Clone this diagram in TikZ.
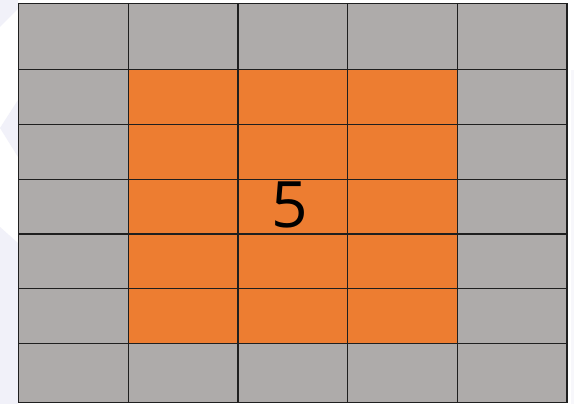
\documentclass[tikz,border=0pt]{standalone}
\usepackage{fontspec}
\newfontfamily\numfont{Open Sans}
\definecolor{cellgray}{HTML}{AEABAA}
\definecolor{cellorange}{HTML}{ED7D31}
\definecolor{bglav}{HTML}{F1F1F9}
\begin{document}
\begin{tikzpicture}[x=1pt,y=-1pt,
  cellbox/.style={draw=black!88, line width=1.2pt},
  numlabel/.style={font=\numfont\fontsize{64}{64}\selectfont, text=black, inner sep=0pt}]
\useasboundingbox (0,0) rectangle (574,404);
\fill[white] (0,0) rectangle (574,404);
\fill[bglav] (0,0) -- (18,0) -- (18,9) -- (0,27) -- cycle;
\fill[bglav] (18,100) -- (0,128) -- (18,157) -- cycle;
\fill[bglav] (0,227) -- (18,243) -- (18,404) -- (0,404) -- cycle;
\fill[bglav!60] (571,70) rectangle (574,404);
\foreach \c in {0,...,4}{
  \foreach \r in {0,...,6}{
    \pgfmathsetmacro\xa{{18.3,128.2,237.9,347.6,457.3,567}[\c]}
    \pgfmathsetmacro\xb{{18.3,128.2,237.9,347.6,457.3,567}[\c+1]}
    \pgfmathsetmacro\ya{{3.7,69.7,124.5,179.2,233.9,288.6,343.5,402.7}[\r]}
    \pgfmathsetmacro\yb{{3.7,69.7,124.5,179.2,233.9,288.6,343.5,402.7}[\r+1]}
    \pgfmathtruncatemacro\inner{(\c>0)&&(\c<4)&&(\r>0)&&(\r<6)}
    \ifnum\inner=1
      \def\cellfill{cellorange}
    \else
      \def\cellfill{cellgray}
    \fi
    \draw[cellbox, fill=\cellfill] (\xa,\ya) rectangle (\xb,\yb);
  }
}
\node[numlabel] (five) at (290,204.5) {5};
\end{tikzpicture}
\end{document}
